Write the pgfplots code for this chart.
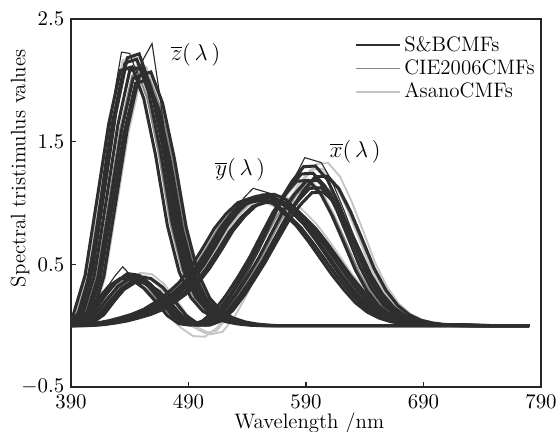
\documentclass[border=0pt]{standalone}
\usepackage{pgfplots}
\usepackage{pgfplotstable}
\pgfplotsset{compat=1.18}
\definecolor{sbc}{HTML}{2E2E2E}
\definecolor{cie}{HTML}{858585}
\definecolor{asa}{HTML}{C6C6C6}
\pgfplotsset{
  sb/.style={color=sbc, line width=1.6pt, forget plot},
  ci/.style={color=cie, line width=1.0pt, forget plot},
  as/.style={color=asa, line width=1.0pt, forget plot},
}
% one observer = three curves x, y, z
\newcommand{\obs}[2]{%
  \addplot[#2] table[x=l,y=x]{#1};
  \addplot[#2] table[x=l,y=y]{#1};
  \addplot[#2] table[x=l,y=z]{#1};}

% ---- S&B observers
\pgfplotstableread{
l x y z
390 .003 .000 .012
400 .020 .002 .090
410 .087 .009 .410
420 .208 .022 1.020
430 .320 .040 1.640
440 .386 .065 2.080
450 .374 .094 2.110
460 .305 .134 1.850
470 .198 .193 1.390
480 .082 .264 .820
490 .016 .352 .440
500 .004 .478 .230
510 .039 .630 .120
520 .123 .792 .064
530 .248 .912 .032
540 .395 1.003 .014
550 .556 1.035 .004
560 .742 1.040 0
570 .925 .998 0
580 1.068 .908 0
590 1.178 .812 0
600 1.184 .688 0
610 1.085 .552 0
620 .902 .416 0
630 .682 .296 0
640 .455 .188 0
650 .283 .112 0
660 .161 .063 0
670 .086 .033 0
680 .043 .017 0
690 .021 .008 0
700 .010 .004 0
740 .001 0 0
780 0 0 0
}\Sone
\pgfplotstableread{
l x y z
386 .003 .000 .012
396 .021 .002 .093
406 .091 .009 .422
416 .218 .022 1.051
426 .336 .039 1.689
436 .405 .064 2.142
446 .393 .092 2.173
456 .320 .131 1.906
466 .208 .189 1.432
476 .086 .259 .845
486 .017 .345 .453
496 .004 .468 .237
506 .041 .617 .124
516 .129 .776 .066
526 .260 .894 .033
536 .415 .983 .014
546 .584 1.014 .004
556 .779 1.019 0
566 .971 .978 0
576 1.121 .890 0
586 1.237 .796 0
596 1.243 .674 0
606 1.139 .541 0
616 .947 .408 0
626 .716 .290 0
636 .478 .184 0
646 .297 .110 0
656 .169 .062 0
666 .090 .032 0
676 .045 .017 0
686 .022 .008 0
696 .011 .004 0
736 .001 0 0
780 0 0 0
}\Stwo
\pgfplotstableread{
l x y z
390 0 0 0
393 .003 .000 .012
403 .019 .002 .087
413 .083 .009 .398
423 .198 .023 .989
433 .304 .041 1.591
443 .367 .067 2.018
453 .355 .097 2.047
463 .290 .138 1.795
473 .188 .199 1.348
483 .078 .272 .795
493 .015 .363 .427
503 .004 .492 .223
513 .037 .649 .116
523 .117 .816 .062
533 .236 .939 .031
543 .375 1.033 .014
553 .528 1.066 .004
563 .705 1.071 0
573 .879 1.028 0
583 1.015 .935 0
593 1.119 .836 0
603 1.125 .709 0
613 1.031 .569 0
623 .857 .428 0
633 .648 .305 0
643 .432 .194 0
653 .269 .115 0
663 .153 .065 0
673 .082 .034 0
683 .041 .018 0
693 .020 .008 0
703 .010 .004 0
743 .001 0 0
780 0 0 0
}\Sthree
\pgfplotstableread{
l x y z
388 .003 .000 .013
398 .022 .002 .095
408 .096 .009 .431
418 .229 .022 1.071
428 .352 .041 1.722
438 .425 .066 2.184
448 .411 .096 2.216
458 .336 .137 1.943
468 .218 .197 1.460
478 .090 .269 .861
488 .018 .359 .462
498 .004 .488 .242
508 .043 .643 .126
518 .135 .808 .067
528 .273 .930 .034
538 .435 1.023 .015
548 .612 1.056 .004
558 .816 1.061 0
568 1.018 1.018 0
578 1.175 .926 0
588 1.296 .828 0
598 1.302 .702 0
608 1.194 .563 0
618 .992 .424 0
628 .750 .302 0
638 .501 .192 0
648 .311 .114 0
658 .177 .064 0
668 .095 .034 0
678 .047 .017 0
688 .023 .008 0
698 .011 .004 0
738 .001 0 0
780 0 0 0
}\Sfour
\pgfplotstableread{
l x y z
390 0 0 0
395 .003 .000 .011
405 .018 .002 .086
415 .080 .009 .390
425 .191 .021 .969
435 .294 .039 1.558
445 .355 .063 1.976
455 .344 .091 2.005
465 .281 .130 1.758
475 .182 .187 1.321
485 .075 .256 .779
495 .015 .341 .418
505 .004 .464 .219
515 .036 .611 .114
525 .113 .768 .061
535 .228 .885 .030
545 .363 .973 .013
555 .512 1.004 .004
565 .683 1.009 0
575 .851 .968 0
585 .983 .881 0
595 1.084 .788 0
605 1.089 .667 0
615 .998 .535 0
625 .830 .404 0
635 .627 .287 0
645 .419 .182 0
655 .260 .109 0
665 .148 .061 0
675 .079 .032 0
685 .040 .016 0
695 .019 .008 0
705 .009 .004 0
745 .001 0 0
780 0 0 0
}\Sfive
\pgfplotstableread{
l x y z
382 .003 .000 .012
392 .020 .002 .090
402 .087 .009 .410
412 .208 .022 1.020
422 .320 .040 1.640
432 .386 .065 2.080
442 .374 .094 2.110
452 .305 .134 1.850
462 .198 .193 1.390
472 .082 .264 .820
482 .016 .352 .440
492 .004 .478 .230
502 .039 .630 .120
512 .123 .792 .064
522 .248 .912 .032
532 .395 1.003 .014
542 .556 1.035 .004
552 .742 1.040 0
562 .925 .998 0
572 1.068 .908 0
582 1.178 .812 0
592 1.184 .688 0
602 1.085 .552 0
612 .902 .416 0
622 .682 .296 0
632 .455 .188 0
642 .283 .112 0
652 .161 .063 0
662 .086 .033 0
672 .043 .017 0
682 .021 .008 0
692 .010 .004 0
732 .001 0 0
780 0 0 0
}\Sseven
\pgfplotstableread{
l x y z
390 0 0 0
398 .003 .000 .012
408 .021 .002 .088
418 .090 .009 .402
428 .214 .022 1.000
438 .330 .039 1.607
448 .398 .064 2.038
458 .385 .092 2.068
468 .314 .131 1.813
478 .204 .189 1.362
488 .084 .259 .804
498 .016 .345 .431
508 .004 .468 .225
518 .040 .617 .118
528 .127 .776 .063
538 .255 .894 .031
548 .407 .983 .014
558 .573 1.014 .004
568 .764 1.019 0
578 .953 .978 0
588 1.100 .890 0
598 1.213 .796 0
608 1.220 .674 0
618 1.118 .541 0
628 .929 .408 0
638 .702 .290 0
648 .469 .184 0
658 .291 .110 0
668 .166 .062 0
678 .089 .032 0
688 .044 .017 0
698 .022 .008 0
708 .010 .004 0
748 .001 0 0
780 0 0 0
}\Seight

% ---- CIE 2006 observers
\pgfplotstableread{
l x y z
390 0 0 0
392 .003 0 .012
402 .020 .002 .088
412 .087 .009 .402
422 .208 .022 1.000
432 .320 .040 1.607
442 .386 .065 2.038
452 .374 .094 2.068
462 .305 .134 1.813
472 .198 .193 1.362
482 .082 .264 .804
492 .016 .352 .431
502 .004 .478 .225
512 .039 .630 .118
522 .123 .792 .063
532 .248 .912 .031
542 .395 1.003 .014
552 .556 1.035 .004
562 .742 1.040 0
572 .925 .998 0
582 1.068 .908 0
592 1.178 .812 0
602 1.184 .688 0
612 1.085 .552 0
622 .902 .416 0
632 .682 .296 0
642 .455 .188 0
652 .283 .112 0
662 .161 .063 0
672 .086 .033 0
682 .043 .017 0
692 .021 .008 0
702 .010 .004 0
742 .001 0 0
780 0 0 0
}\Cone
\pgfplotstableread{
l x y z
385 .003 0 .012
395 .019 .002 .090
405 .084 .009 .410
415 .200 .022 1.020
425 .307 .040 1.640
435 .371 .065 2.080
445 .359 .094 2.110
455 .293 .134 1.850
465 .190 .193 1.390
475 .079 .264 .820
485 .015 .352 .440
495 .004 .478 .230
505 .037 .630 .120
515 .118 .792 .064
525 .238 .912 .032
535 .379 1.003 .014
545 .534 1.035 .004
555 .712 1.040 0
565 .888 .998 0
575 1.025 .908 0
585 1.131 .812 0
595 1.137 .688 0
605 1.042 .552 0
615 .866 .416 0
625 .655 .296 0
635 .437 .188 0
645 .272 .112 0
655 .155 .063 0
665 .083 .033 0
675 .041 .017 0
685 .020 .008 0
695 .010 .004 0
735 .001 0 0
780 0 0 0
}\Ctwo
\pgfplotstableread{
l x y z
390 0 0 0
397 .003 0 .011
407 .021 .002 .086
417 .090 .009 .390
427 .214 .021 .969
437 .330 .039 1.558
447 .398 .063 1.976
457 .385 .091 2.005
467 .314 .130 1.758
477 .204 .187 1.321
487 .084 .256 .779
497 .016 .341 .418
507 .004 .464 .219
517 .040 .611 .114
527 .127 .768 .061
537 .255 .885 .030
547 .407 .973 .013
557 .573 1.004 .004
567 .764 1.009 0
577 .953 .968 0
587 1.100 .881 0
597 1.213 .788 0
607 1.220 .667 0
617 1.118 .535 0
627 .929 .404 0
637 .702 .287 0
647 .469 .182 0
657 .291 .109 0
667 .166 .061 0
677 .089 .032 0
687 .044 .016 0
697 .022 .008 0
707 .010 .004 0
747 .001 0 0
780 0 0 0
}\Cthree

% ---- Asano observers
\pgfplotstableread{
l x y z
390 0 0 0
394 .003 0 .012
404 .022 .002 .090
414 .094 .009 .410
424 .225 .022 1.020
434 .346 .040 1.640
444 .417 .065 2.080
454 .404 .094 2.110
464 .329 .134 1.850
474 .214 .193 1.390
484 .080 .264 .820
494 -.010 .352 .440
504 -.060 .478 .230
514 -.040 .630 .120
524 .080 .792 .064
534 .230 .912 .032
544 .400 1.003 .014
554 .600 1.035 .004
564 .801 1.040 0
574 .999 .998 0
584 1.153 .908 0
594 1.272 .812 0
604 1.279 .688 0
614 1.172 .552 0
624 .974 .416 0
634 .737 .296 0
644 .491 .188 0
654 .306 .112 0
664 .174 .063 0
674 .093 .033 0
684 .046 .017 0
694 .023 .008 0
704 .011 .004 0
744 .001 0 0
780 0 0 0
}\Aone
\pgfplotstableread{
l x y z
384 .003 0 .012
394 .020 .002 .094
404 .087 .009 .426
414 .208 .021 1.061
424 .320 .039 1.706
434 .386 .063 2.163
444 .374 .091 2.194
454 .305 .130 1.924
464 .198 .187 1.446
474 .070 .256 .853
484 -.020 .341 .458
494 -.085 .464 .239
504 -.090 .611 .125
514 -.020 .768 .067
524 .100 .885 .033
534 .330 .973 .015
544 .540 1.004 .004
554 .742 1.009 0
564 .925 .968 0
574 1.068 .881 0
584 1.178 .788 0
594 1.184 .667 0
604 1.085 .535 0
614 .902 .404 0
624 .682 .287 0
634 .455 .182 0
644 .283 .109 0
654 .161 .061 0
664 .086 .032 0
674 .043 .016 0
684 .021 .008 0
694 .010 .004 0
734 .001 0 0
780 0 0 0
}\Atwo
\pgfplotstableread{
l x y z
390 0 0 0
399 .003 0 .012
409 .022 .002 .086
419 .097 .009 .394
429 .233 .022 .979
439 .358 .041 1.574
449 .432 .066 1.997
459 .419 .096 2.026
469 .342 .137 1.776
479 .222 .197 1.334
489 .085 .269 .787
499 -.020 .359 .422
509 -.070 .488 .221
519 -.050 .643 .115
529 .070 .808 .061
539 .240 .930 .031
549 .440 1.023 .013
559 .623 1.056 .004
569 .831 1.061 0
579 1.036 1.018 0
589 1.196 .926 0
599 1.319 .828 0
609 1.326 .702 0
619 1.215 .563 0
629 1.010 .424 0
639 .764 .302 0
649 .510 .192 0
659 .317 .114 0
669 .180 .064 0
679 .096 .034 0
689 .048 .017 0
699 .024 .008 0
709 .011 .004 0
749 .001 0 0
780 0 0 0
}\Athree

\begin{document}
\begin{tikzpicture}
\begin{axis}[
  scale only axis,
  width=247pt, height=193.4pt,
  xmin=390, xmax=790, ymin=-0.5, ymax=2.5,
  xtick={390,490,590,690,790},
  ytick={-0.5,0.5,1.5,2.5},
  xtick pos=lower, ytick pos=left,
  tick align=inside,
  major tick length=2.5pt,
  tick style={color=black!85, line width=0.6pt},
  axis line style={color=black!85, line width=0.7pt},
  tick label style={font=\fontsize{11}{13}\selectfont},
  xticklabel style={yshift=-0.5pt},
  label style={font=\fontsize{11}{13}\selectfont},
  xlabel={Wavelength /nm},
  ylabel={Spectral tristimulus values},
  xlabel style={at={(axis description cs:0.507,0)}, anchor=base, yshift=-22pt},
  ylabel style={at={(axis description cs:-0.1085,0.594)}, anchor=center},
  legend cell align=left,
  legend style={draw=none, fill=none, at={(1.008,0.975)}, anchor=north east,
    font=\fontsize{11}{13}\selectfont, row sep=-1pt},
  legend image code/.code={\draw[#1, line width=0.8pt] (0cm,0cm) -- (0.8cm,0cm);},
]
\addlegendimage{sbc}
\addlegendentry{S\&BCMFs}
\addlegendimage{cie}
\addlegendentry{CIE2006CMFs}
\addlegendimage{asa}
\addlegendentry{AsanoCMFs}

\obs{\Aone}{as}
\obs{\Atwo}{as}
\obs{\Athree}{as}
\obs{\Cone}{ci}
\obs{\Ctwo}{ci}
\obs{\Cthree}{ci}
\obs{\Sone}{sb}
\obs{\Stwo}{sb}
\obs{\Sthree}{sb}
\obs{\Sfour}{sb}
\obs{\Sfive}{sb}
\obs{\Sseven}{sb}
\obs{\Seight}{sb}
% outlier observer with ragged peaks
\addplot[sb, line width=0.6pt] coordinates {(390,0) (400,.05) (410,.16) (420,.30) (427,.40) (434,.48) (442,.40) (450,.36) (460,.29) (470,.19) (480,.08) (490,.02) (500,.01) (510,.05) (520,.14) (530,.27) (540,.43) (550,.61) (560,.82) (570,1.02) (580,1.20) (589,1.37) (603,1.33) (612,1.18) (622,.95) (632,.70) (642,.46) (652,.28) (662,.16) (672,.08) (682,.04) (692,.02) (702,.01) (742,0) (780,0)};
\addplot[sb, line width=0.6pt] coordinates {(390,0) (420,.025) (440,.06) (460,.13) (470,.19) (480,.26) (490,.35) (500,.48) (510,.64) (520,.81) (530,.94) (537,1.04) (545,1.12) (559,1.08) (570,1.01) (580,.92) (590,.82) (600,.70) (610,.56) (620,.42) (630,.30) (640,.19) (650,.11) (660,.06) (670,.03) (680,.015) (700,.004) (780,0)};
\addplot[sb, line width=0.6pt] coordinates {(390,0) (400,.20) (410,.70) (420,1.40) (428,1.95) (433,2.23) (440,2.22) (446,2.06) (452,2.18) (459,2.30) (466,1.85) (472,1.40) (480,.88) (490,.46) (500,.24) (510,.12) (520,.06) (530,.03) (550,.005) (560,0) (780,0)};

\node[font=\fontsize{13}{15}\selectfont] at (axis cs:496,2.21) {$\overline{z}(\,\lambda\,)$};
\node[font=\fontsize{13}{15}\selectfont] at (axis cs:534,1.27) {$\overline{y}(\,\lambda\,)$};
\node[font=\fontsize{13}{15}\selectfont] at (axis cs:632,1.42) {$\overline{x}(\,\lambda\,)$};
\end{axis}
\pgfresetboundingbox
\path[use as bounding box] ([xshift=-37.3pt,yshift=-23.6pt]current axis.south west)
  rectangle ([xshift=7.9pt,yshift=10pt]current axis.north east);
\end{tikzpicture}
\end{document}
